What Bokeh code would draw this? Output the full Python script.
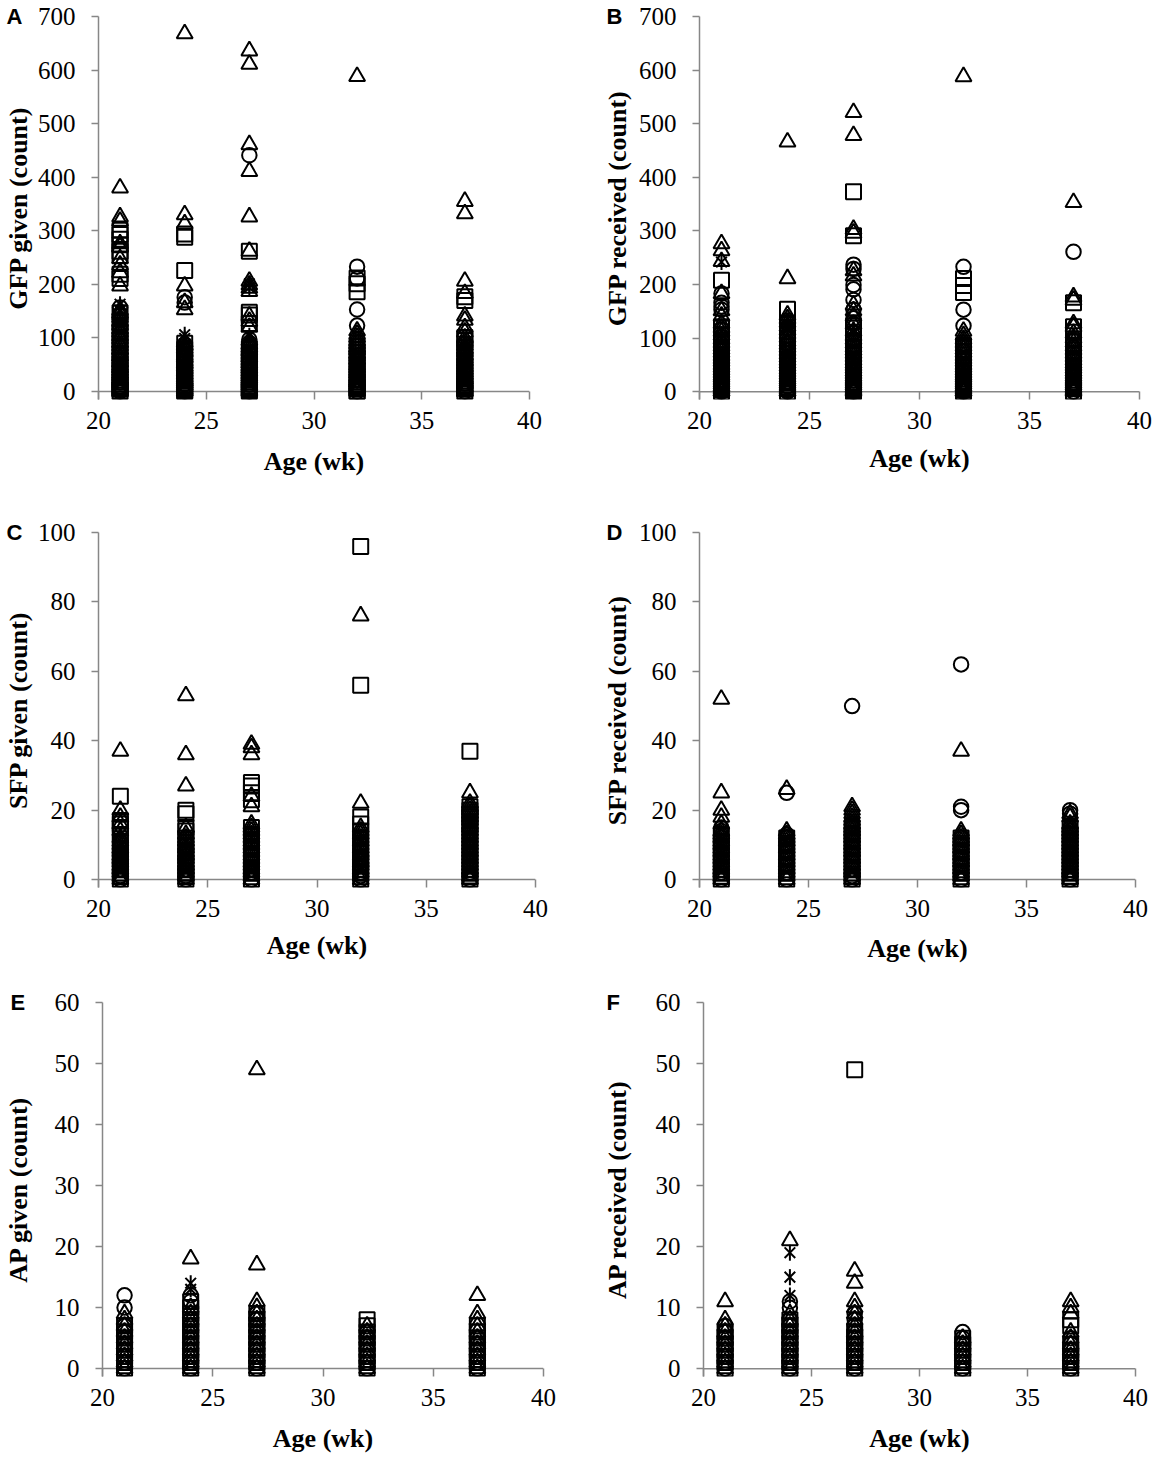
import math
from bokeh.plotting import figure
from bokeh.models import Range1d, Span, FixedTicker
from bokeh.layouts import row, column
from bokeh.embed import file_html
from bokeh.resources import INLINE

AGES = [21, 24, 27, 32, 37]
X_TICKS = [20, 25, 30, 35, 40]
X_TITLE = "Age (wk)"

# ---------------- Panel A : GFP given ----------------
A_yticks = [0, 100, 200, 300, 400, 500, 600, 700]
A_tri = {
    21: [380, 326, 318, 276, 270, 248, 236, 222, 197, 152, 146, 138, 131, 124, 117, 111, 104, 98, 91, 85, 78, 72, 66, 61, 55, 49, 44, 39, 34, 29, 24, 20, 16, 12, 8, 5, 2, 0],
    24: [668, 330, 313, 197, 166, 153, 92, 86, 80, 74, 68, 63, 57, 52, 47, 42, 37, 32, 27, 23, 19, 15, 11, 7, 4, 1, 0],
    27: [636, 611, 461, 411, 326, 262, 206, 199, 193, 187, 141, 131, 120, 95, 88, 82, 76, 70, 64, 59, 53, 48, 43, 38, 33, 28, 24, 20, 16, 12, 8, 5, 2, 0],
    32: [588, 113, 107, 101, 95, 89, 83, 77, 71, 65, 60, 54, 49, 44, 39, 34, 29, 25, 21, 17, 13, 9, 6, 3, 0],
    37: [355, 332, 206, 183, 141, 133, 119, 111, 100, 93, 86, 80, 74, 68, 62, 57, 51, 46, 41, 36, 31, 27, 23, 18, 14, 10, 7, 4, 1, 0],
}
A_sq = {
    21: [301, 293, 284, 274, 262, 254, 219, 211, 147, 128, 112, 97, 84, 71, 59, 48, 37, 27, 18, 10, 4, 0],
    24: [294, 288, 226, 90, 79, 67, 56, 45, 35, 25, 16, 8, 2, 0],
    27: [262, 148, 143, 127, 80, 69, 58, 47, 37, 27, 18, 10, 3, 0],
    32: [212, 201, 186, 84, 73, 62, 51, 41, 31, 22, 14, 7, 1, 0],
    37: [177, 170, 101, 95, 82, 70, 59, 48, 38, 28, 19, 11, 4, 0],
}
A_circ = {
    21: [157, 143, 134, 121, 108, 95, 82, 70, 58, 47, 36, 26, 17, 9, 3, 0],
    24: [176, 166, 88, 76, 64, 53, 42, 32, 22, 13, 5, 0],
    27: [441, 97, 91, 84, 73, 62, 51, 41, 31, 22, 13, 6, 0],
    32: [233, 211, 153, 123, 86, 74, 62, 51, 40, 30, 20, 11, 4, 0],
    37: [89, 78, 66, 55, 44, 34, 24, 15, 7, 0],
}
A_star = {21: [163, 150], 24: [106, 99], 27: [201, 194, 104], 37: [92]}

# ---------------- Panel B : GFP received ----------------
B_yticks = [0, 100, 200, 300, 400, 500, 600, 700]
B_tri = {
    21: [276, 263, 243, 183, 151, 141, 127, 119, 112, 105, 98, 91, 85, 79, 73, 67, 61, 56, 50, 45, 40, 35, 30, 26, 22, 18, 14, 10, 7, 4, 1, 0],
    24: [466, 211, 143, 136, 129, 122, 115, 108, 101, 94, 88, 82, 76, 70, 64, 58, 53, 47, 42, 37, 32, 27, 23, 19, 15, 11, 7, 4, 1, 0],
    27: [521, 478, 303, 296, 226, 216, 162, 151, 141, 126, 113, 104, 97, 90, 83, 77, 71, 65, 59, 53, 48, 43, 38, 33, 28, 24, 20, 16, 12, 8, 5, 2, 0],
    32: [588, 113, 105, 98, 91, 85, 79, 73, 67, 61, 56, 50, 45, 40, 35, 30, 26, 22, 18, 14, 10, 7, 4, 1, 0],
    37: [353, 177, 171, 127, 121, 109, 100, 92, 85, 78, 71, 65, 59, 53, 48, 43, 38, 33, 28, 24, 20, 16, 12, 8, 5, 2, 0],
}
B_sq = {
    21: [208, 121, 106, 93, 81, 69, 58, 47, 37, 28, 19, 11, 4, 0],
    24: [154, 127, 112, 98, 85, 72, 60, 48, 37, 27, 17, 8, 0],
    27: [373, 291, 122, 108, 95, 82, 70, 58, 47, 36, 26, 17, 9, 2, 0],
    32: [211, 198, 185, 86, 74, 62, 50, 39, 29, 19, 10, 3, 0],
    37: [166, 121, 111, 98, 85, 72, 60, 48, 37, 27, 17, 8, 0],
}
B_circ = {
    21: [183, 166, 159, 153, 116, 102, 89, 76, 64, 52, 41, 31, 21, 12, 5, 0],
    24: [133, 119, 104, 90, 77, 64, 52, 40, 29, 19, 10, 3, 0],
    27: [237, 229, 199, 191, 171, 153, 137, 127, 111, 98, 86, 74, 62, 51, 40, 30, 21, 12, 5, 0],
    32: [233, 153, 123, 88, 75, 63, 51, 40, 29, 19, 10, 3, 0],
    37: [261, 96, 83, 71, 59, 48, 37, 27, 17, 8, 0],
}
B_star = {21: [242], 24: [126], 27: [112]}

# ---------------- Panel C : SFP given ----------------
C_yticks = [0, 20, 40, 60, 80, 100]
C_tri = {
    21: [37, 20, 18, 16, 14, 12, 11, 10, 9, 8, 7, 6, 5, 4, 3, 2, 1, 0],
    24: [53, 36, 27, 15, 13, 12, 11, 10, 9, 8, 7, 6, 5, 4, 3, 2, 1, 0],
    27: [39, 38, 36, 24, 21, 16, 15, 14, 13, 12, 11, 10, 9, 8, 7, 6, 5, 4, 3, 2, 1, 0],
    32: [76, 22, 15, 14, 13, 12, 11, 10, 9, 8, 7, 6, 5, 4, 3, 2, 1, 0],
    37: [25, 22, 21, 20, 19, 18, 17, 16, 15, 14, 13, 12, 11, 10, 9, 8, 7, 6, 5, 4, 3, 2, 1, 0],
}
C_sq = {
    21: [24, 17, 16, 15, 13, 11, 9, 7, 6, 4, 3, 1, 0],
    24: [20, 19, 15, 14, 12, 10, 8, 7, 5, 4, 2, 1, 0],
    27: [28, 27, 25, 23, 15, 13, 11, 9, 7, 5, 3, 2, 0],
    32: [96, 56, 18, 16, 14, 12, 10, 8, 6, 5, 3, 2, 0],
    37: [37, 21, 20, 19, 18, 16, 15, 13, 11, 9, 7, 5, 3, 1, 0],
}
C_circ = {
    21: [11, 9, 8, 6, 4, 3, 1, 0],
    24: [12, 10, 8, 6, 5, 3, 1, 0],
    27: [13, 11, 9, 7, 5, 3, 2, 0],
    32: [12, 10, 8, 6, 4, 2, 1, 0],
    37: [14, 12, 10, 8, 6, 4, 2, 0],
}
C_star = {21: [13], 24: [11], 27: [12], 32: [11], 37: [17]}

# ---------------- Panel D : SFP received ----------------
D_yticks = [0, 20, 40, 60, 80, 100]
D_tri = {
    21: [52, 25, 20, 18, 16, 14, 13, 12, 11, 10, 9, 8, 7, 6, 5, 4, 3, 2, 1, 0],
    24: [26, 14, 13, 12, 11, 10, 9, 8, 7, 6, 5, 4, 3, 2, 1, 0],
    27: [21, 20, 19, 18, 17, 16, 15, 14, 13, 12, 11, 10, 9, 8, 7, 6, 5, 4, 3, 2, 1, 0],
    32: [37, 14, 13, 12, 11, 10, 9, 8, 7, 6, 5, 4, 3, 2, 1, 0],
    37: [19, 18, 16, 15, 14, 13, 12, 11, 10, 9, 8, 7, 6, 5, 4, 3, 2, 1, 0],
}
D_sq = {
    21: [13, 11, 9, 7, 5, 3, 1, 0],
    24: [12, 10, 8, 6, 4, 2, 0],
    27: [15, 13, 11, 9, 7, 5, 3, 1, 0],
    32: [12, 10, 8, 6, 4, 2, 0],
    37: [15, 13, 11, 9, 7, 5, 3, 1, 0],
}
D_circ = {
    21: [15, 14, 12, 10, 8, 6, 4, 2, 0],
    24: [25, 13, 12, 10, 8, 6, 4, 2, 0],
    27: [50, 16, 15, 13, 11, 9, 7, 5, 3, 1, 0],
    32: [62, 21, 20, 12, 10, 8, 6, 4, 2, 0],
    37: [20, 19, 15, 14, 12, 10, 8, 6, 4, 2, 0],
}
D_star = {}

# ---------------- Panel E : AP given ----------------
E_yticks = [0, 10, 20, 30, 40, 50, 60]
E_tri = {
    21: [9, 8, 7, 6, 5, 4, 3, 2, 1, 0],
    24: [18, 10, 9, 8, 7, 6, 5, 4, 3, 2, 1, 0],
    27: [49, 17, 11, 10, 9, 8, 7, 6, 5, 4, 3, 2, 1, 0],
    32: [7, 6, 5, 4, 3, 2, 1, 0],
    37: [12, 9, 8, 7, 6, 5, 4, 3, 2, 1, 0],
}
E_sq = {
    21: [7, 6, 5, 4, 3, 2, 1, 0],
    24: [11, 10, 9, 8, 7, 6, 5, 4, 3, 2, 1, 0],
    27: [9, 8, 7, 6, 5, 4, 3, 2, 1, 0],
    32: [8, 7, 6, 5, 4, 3, 2, 1, 0],
    37: [7, 6, 5, 4, 3, 2, 1, 0],
}
E_circ = {
    21: [12, 10, 7, 6, 5, 4, 3, 2, 1, 0],
    24: [12, 11, 8, 7, 6, 5, 4, 3, 2, 1, 0],
    27: [9, 8, 7, 6, 5, 4, 3, 2, 1, 0],
    32: [6, 5, 4, 3, 2, 1, 0],
    37: [5, 4, 3, 2, 1, 0],
}
E_star = {24: [14, 13]}

# ---------------- Panel F : AP received ----------------
F_yticks = [0, 10, 20, 30, 40, 50, 60]
F_tri = {
    21: [11, 8, 7, 6, 5, 4, 3, 2, 1, 0],
    24: [21, 9, 8, 7, 6, 5, 4, 3, 2, 1, 0],
    27: [16, 14, 11, 10, 9, 8, 7, 6, 5, 4, 3, 2, 1, 0],
    32: [5, 4, 3, 2, 1, 0],
    37: [11, 10, 9, 6, 5, 4, 3, 2, 1, 0],
}
F_sq = {
    21: [6, 5, 4, 3, 2, 1, 0],
    24: [8, 7, 6, 5, 4, 3, 2, 1, 0],
    27: [49, 6, 5, 4, 3, 2, 1, 0],
    32: [5, 4, 3, 2, 1, 0],
    37: [8, 7, 4, 3, 2, 1, 0],
}
F_circ = {
    21: [7, 6, 5, 4, 3, 2, 1, 0],
    24: [11, 10, 8, 7, 6, 5, 4, 3, 2, 1, 0],
    27: [9, 8, 7, 6, 5, 4, 3, 2, 1, 0],
    32: [6, 5, 4, 3, 2, 1, 0],
    37: [5, 4, 3, 2, 1, 0],
}
F_star = {24: [19, 15, 12]}

GRAY = "#878787"
SERIF = "Liberation Serif"
PAD = 8  # px below the zero line, so that markers at 0 are not cut
LW = 2.0


def pts(d):
    xs, ys = [], []
    for age in AGES:
        for v in d.get(age, []):
            xs.append(age)
            ys.append(v)
    return xs, ys


def panel(letter, ylabel, yticks, tri, sq, circ, star,
          fig_w, fig_h, f_left, f_right, f_top, zero_y, let_x, title_gap, xtitle_gap):
    ymax = yticks[-1]
    ppu = (zero_y - f_top) / ymax          # px per y unit
    ystart = -PAD / ppu
    f_bottom = zero_y + PAD
    p = figure(width=fig_w, height=fig_h,
               x_range=Range1d(20, 40), y_range=Range1d(ystart, ymax),
               output_backend="svg", toolbar_location=None,
               min_border_left=f_left, min_border_right=fig_w - f_right,
               min_border_top=f_top, min_border_bottom=fig_h - f_bottom)
    p.outline_line_color = None
    p.xgrid.visible = False
    p.ygrid.visible = False
    p.background_fill_color = "white"
    p.border_fill_color = "white"

    # panel letter as the plot title, pulled to the top-left corner
    p.title.text = letter
    p.title.align = "left"
    p.title.vertical_align = "bottom"
    p.title.offset = let_x - f_left
    p.title.standoff = -24
    p.title.text_font = "Liberation Sans"
    p.title.text_font_style = "bold"
    p.title.text_font_size = "22px"
    p.title.text_color = "black"

    p.add_layout(Span(location=0, dimension="width", line_color=GRAY,
                      line_width=1.5, level="underlay"))

    for d, marker, size in ((tri, "triangle", 16), (sq, "square", 15), (circ, "circle", 14.5)):
        xs, ys = pts(d)
        p.scatter(xs, ys, marker=marker, size=size, fill_color=None,
                  line_color="black", line_width=LW)
    xs, ys = pts(star)
    p.scatter(xs, ys, marker="x", size=15, line_color="black", line_width=LW)
    p.scatter(xs, ys, marker="dash", size=16, angle=math.pi / 2,
              line_color="black", line_width=LW)

    xa = p.xaxis[0]
    ya = p.yaxis[0]
    xa.ticker = FixedTicker(ticks=X_TICKS)
    ya.ticker = FixedTicker(ticks=yticks)
    for ax in (xa, ya):
        ax.axis_line_color = GRAY
        ax.axis_line_width = 1.5
        ax.major_tick_line_color = GRAY
        ax.major_tick_line_width = 1.5
        ax.minor_tick_line_color = None
        ax.major_label_text_font = SERIF
        ax.major_label_text_font_size = "25px"
        ax.major_label_text_color = "black"
        ax.axis_label_text_font = SERIF
        ax.axis_label_text_font_size = "26px"
        ax.axis_label_text_font_style = "bold"
        ax.axis_label_text_color = "black"
    xa.axis_line_color = None
    xa.major_tick_in = PAD
    xa.major_tick_out = 0
    xa.major_label_standoff = 12
    xa.axis_label = X_TITLE
    xa.axis_label_standoff = int(xtitle_gap)
    ya.major_tick_in = 0
    ya.major_tick_out = 7
    ya.major_label_standoff = 16
    ya.axis_label = ylabel
    ya.axis_label_standoff = int(title_gap)
    return p


pA = panel("A", "GFP given (count)", A_yticks, A_tri, A_sq, A_circ, A_star,
           580, 480, 97, 529, 16, 391, 5, 2, 15)
pB = panel("B", "GFP received (count)", B_yticks, B_tri, B_sq, B_circ, B_star,
           578, 480, 119, 559, 13, 397, 26, 4, 12)
pC = panel("C", "SFP given (count)", C_yticks, C_tri, C_sq, C_circ, C_star,
           580, 485, 97, 535, 52, 403, 5, 2, 11)
pD = panel("D", "SFP received (count)", D_yticks, D_tri, D_sq, D_circ, D_star,
           578, 485, 119, 555, 48, 400, 26, 4, 14)
pE = panel("E", "AP given (count)", E_yticks, E_tri, E_sq, E_circ, E_star,
           580, 494, 99, 543, 37, 407, 7, 19, 15)
pF = panel("F", "AP received (count)", F_yticks, F_tri, F_sq, F_circ, F_star,
           578, 494, 123, 555, 29, 403, 26, 21, 15)

layout = column(row(pA, pB), row(pC, pD), row(pE, pF))

open("out.html", "w").write(file_html(layout, INLINE))
